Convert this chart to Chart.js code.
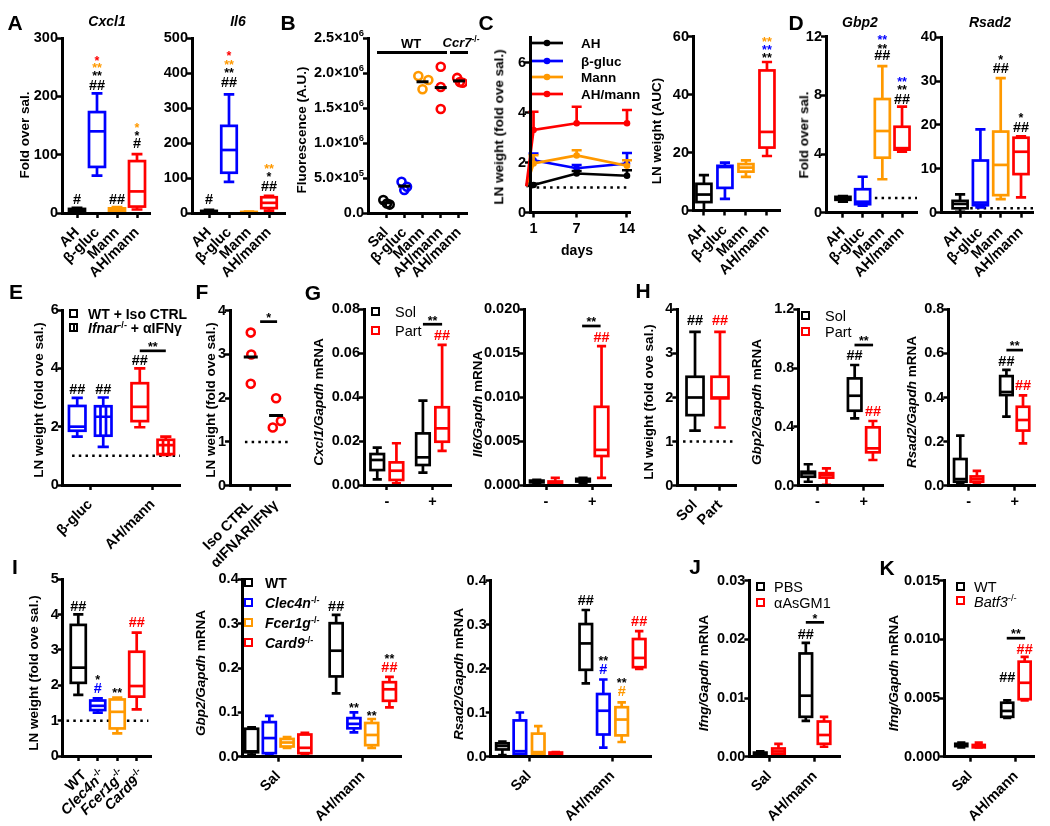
<!DOCTYPE html>
<html><head><meta charset="utf-8">
<script src="https://cdn.jsdelivr.net/npm/chart.js@4.4.1/dist/chart.umd.min.js"></script>
<style>
html,body{margin:0;padding:0;background:#fff;}
#fig{position:relative;width:1050px;height:826px;overflow:hidden;background:#fff;font-family:'Liberation Sans',Arial,sans-serif;font-weight:bold;color:#000;}
#fig canvas{position:absolute;}
.t{position:absolute;white-space:nowrap;line-height:1;}
.sup{font-size:0.65em;vertical-align:0.6em;font-style:normal;}
</style></head><body><div id="fig"></div>
<script>
const K='#000000', BL='#0000ff', OR='#ff9900', RD='#ff0000';
const FF="'Liberation Sans', Arial, Helvetica, sans-serif";

// ================= DATA =================
// A
const catsA = ['AH','β-gluc','Mann','AH/mann'];
const colorsA = [K, BL, OR, RD];
const cxcl1A = [[1,3,5,7,9],[64,79,140,173,205],[2,3,5,8,10],[6,11,37,89,101]];
const il6A = [[1,2,4,6,9],[89,115,180,249,339],[0.5,1,2,3,4],[7,14,29,45,49]];
const ticksCxcl1A = [0,100,200,300];
const ticksIl6A = [0,100,200,300,400,500];
// B
const catsB = ['Sal','β-gluc','Mann','AH/mann','AH/mann'];
const colorsB = [K, BL, OR, RD, RD];
const fluorB = [[1.85e5,1.35e5,1.2e5],[4.47e5,3.76e5,3.29e5],[1.957e6,1.9e6,1.767e6],[2.09e6,1.8e6,1.486e6],[1.93e6,1.87e6,1.86e6]];
const ticksB = [0,5e5,1e6,1.5e6,2e6,2.5e6];
const tickMantB = ['0.0','5.0×10','1.0×10','1.5×10','2.0×10','2.5×10'];
const tickExpB = ['','5','6','6','6','6'];
// C
const daysC = [0,1,7,14];
const seriesC = ['AH','β-gluc','Mann','AH/mann'];
const colorsC = [K, BL, OR, RD];
const lnAH_C = [1.05,1.1,1.56,1.47],  semAH_C = [0,0.05,0.1,0.22];
const lnBG_C = [1.05,2.09,1.77,1.96], semBG_C = [0,0.27,0.13,0.42];
const lnMa_C = [1.05,1.96,2.28,1.87], semMa_C = [0,0.33,0.21,0.22];
const lnAM_C = [1.05,3.3,3.57,3.57],  semAM_C = [0,0.73,0.66,0.53];
const ticksC = [0,2,4,6];
const daysTicksC = [1,7,14];
const aucC = [[0,2.9,5.5,9.2,12.2],[4,7.8,15,15.4,16.5],[11.6,13.4,14.8,16,17.3],[18.8,21.7,27.1,48.3,51.2]];
const ticksAucC = [0,20,40,60];
// D
const gbp2D = [[0.75,0.88,1.0,1.08,1.14],[0.48,0.58,0.75,1.6,2.45],[2.28,3.75,5.57,7.75,10.0],[4.16,4.3,4.4,5.86,7.23]];
const rsad2D = [[0.2,1.0,2.0,2.7,4.2],[1.2,1.7,2.3,11.9,19.0],[3.1,4.0,10.9,18.5,30.7],[3.5,8.8,13.9,17.1,17.4]];
const ticksGbp2D = [0,4,8,12];
const ticksRsad2D = [0,10,20,30,40];
// E
const catsE = ['β-gluc','AH/mann'];
const colorsE = [BL, RD];
const lnE_WT = [[1.66,1.86,2.0,2.71,2.99],[1.98,2.19,2.68,3.49,4.0]];
const lnE_KO = [[1.31,1.69,2.34,2.7,3.0],[1.03,1.06,1.37,1.55,1.66]];
const ticksE = [0,2,4,6];
// F
const catsF = ['Iso CTRL','αIFNAR/IFNγ'];
const lnF = [[3.5,3.0,2.33],[2.0,1.33,1.48]];
const ticksF = [0,1,2,3,4];
// G
const catsG = ['-','+'];
const cxcl1G_Sol = [[0.0026,0.0068,0.0114,0.0141,0.017],[0.0056,0.0091,0.0126,0.0235,0.0384]];
const cxcl1G_Part = [[0.0008,0.0023,0.0065,0.0103,0.019],[0.0155,0.0197,0.0258,0.0354,0.0638]];
const il6G_Sol = [[0.0002,0.0003,0.0004,0.0005,0.0006],[0.0002,0.0004,0.0005,0.0007,0.0008]];
const il6G_Part = [[0.0,0.0001,0.0002,0.0004,0.0008],[0.0008,0.0033,0.004,0.0089,0.0158]];
const ticksCxcl1G = [0,0.02,0.04,0.06,0.08];
const ticksIl6G = [0,0.005,0.01,0.015,0.02];
// H
const catsH1 = ['Sol','Part'];
const lnH = [[1.25,1.6,2.0,2.47,3.49],[1.32,1.98,2.0,2.47,3.49]];
const gbp2H_Sol = [[0.027,0.061,0.084,0.095,0.146],[0.458,0.51,0.612,0.73,0.821]];
const gbp2H_Part = [[0.005,0.055,0.073,0.085,0.118],[0.175,0.227,0.254,0.397,0.44]];
const rsad2H_Sol = [[0.006,0.018,0.03,0.121,0.227],[0.313,0.411,0.425,0.497,0.525]];
const rsad2H_Part = [[0.007,0.018,0.03,0.042,0.067],[0.192,0.25,0.298,0.358,0.41]];
const ticksLnH = [0,1,2,3,4];
const ticksGbp2H = [0,0.4,0.8,1.2];
const ticksRsad2H = [0,0.2,0.4,0.6,0.8];
// I
const genoI = ['WT','Clec4n-/-','Fcer1g-/-','Card9-/-'];
const colorsI = [K, BL, OR, RD];
const lnI = [[1.73,2.07,2.5,3.71,4.01],[1.23,1.3,1.42,1.57,1.63],[0.64,0.78,1.25,1.6,1.65],[1.32,1.68,1.98,2.95,3.49]];
const catsI2 = ['Sal','AH/mann'];
const gbp2I_Sal = [[0.005,0.01,0.012,0.063,0.066],[0.005,0.008,0.042,0.078,0.092],[0.02,0.023,0.032,0.04,0.044],[0.006,0.008,0.02,0.05,0.054]];
const gbp2I_AHM = [[0.143,0.181,0.239,0.301,0.32],[0.055,0.064,0.074,0.087,0.1],[0.02,0.026,0.049,0.076,0.085],[0.111,0.126,0.152,0.168,0.18]];
const rsad2I_Sal = [[0.003,0.016,0.024,0.03,0.034],[0.003,0.006,0.012,0.082,0.1],[0.002,0.005,0.01,0.052,0.069],[0.005,0.006,0.007,0.009,0.01]];
const rsad2I_AHM = [[0.166,0.197,0.257,0.301,0.333],[0.02,0.05,0.104,0.142,0.175],[0.033,0.048,0.084,0.112,0.123],[0.199,0.203,0.224,0.267,0.285]];
const ticksLnI = [0,1,2,3,4,5];
const ticksI2 = [0,0.1,0.2,0.3,0.4];
// J, K
const catsJK = ['Sal','AH/mann'];
const ifngJ_PBS = [[0.0002,0.0003,0.0005,0.0007,0.0009],[0.0061,0.0068,0.0104,0.0176,0.0194]];
const ifngJ_As = [[0.0002,0.0005,0.0009,0.0014,0.0022],[0.0017,0.0022,0.0037,0.006,0.0068]];
const ifngK_WT = [[0.0008,0.0009,0.001,0.0011,0.0012],[0.0033,0.0034,0.0039,0.0046,0.0048]];
const ifngK_Batf = [[0.0008,0.0008,0.0009,0.001,0.0012],[0.0048,0.0049,0.0063,0.0081,0.0085]];
const ticksJ = [0,0.01,0.02,0.03];
const ticksK = [0,0.005,0.01,0.015];

// ============ layout-only arrays (jitter / annotation placement) ============
const jitterB = [[-0.15,0.05,0.2],[-0.15,0.15,0],[-0.23,0.32,0],[0,0,0],[-0.1,0.05,0.2]];
const jitterF = [[0,0.02,0],[0,-0.13,0.19]];
const annA1 = [[0,24,'#',K],[1,219,'##',K],[1,240,'**',K],[1,255,'**',OR],[1,267,'*',RD],[2,24,'##',K],[3,120,'#',K],[3,137,'*',K],[3,151,'*',OR]];
const annA2 = [[0,40,'#',K],[1,374,'##',K],[1,409,'**',K],[1,431,'**',OR],[1,457,'*',RD],[3,77,'##',K],[3,111,'*',K],[3,134,'**',OR]];
const annC2 = [[3,53.8,'**',K],[3,56.5,'**',BL],[3,59.3,'**',OR]];
const annD1 = [[2,10.75,'##',K],[2,11.37,'**',K],[2,11.98,'**',BL],[3,7.75,'##',K],[3,8.57,'**',K],[3,9.12,'**',BL]];
const annD2 = [[2,33,'##',K],[2,35.5,'*',K],[3,19.5,'##',K],[3,22.3,'*',K]];
const annE = [[-0.208,3.29,'##',K],[0.208,3.29,'##',K],[0.792,4.29,'##',K]];
const annG1 = [[1.21,0.0683,'##',RD]];
const annG2 = [[1.2,0.0169,'##',RD]];
const annH1 = [[0,3.76,'##',K],[1,3.76,'##',RD]];
const annH2 = [[0.8,0.889,'##',K],[1.2,0.51,'##',RD]];
const annH3 = [[0.82,0.567,'##',K],[1.18,0.457,'##',RD]];
const annI1 = [[0,4.25,'##',K],[1,2.24,'*',K],[1,1.94,'#',BL],[2,1.87,'**',K],[3,3.8,'##',RD]];
const annI2 = [[0.685,0.341,'##',K],[0.895,0.117,'**',K],[1.105,0.1,'**',K],[1.315,0.228,'**',K],[1.315,0.203,'##',RD]];
const annI3 = [[0.68,0.356,'##',K],[0.89,0.224,'**',K],[0.89,0.2,'#',BL],[1.11,0.174,'**',K],[1.11,0.15,'#',OR],[1.32,0.309,'##',RD]];
const annJ = [[0.8,0.0209,'##',K]];
const annK = [[1.19,0.0092,'##',RD],[0.81,0.0068,'##',K]];
const sigE = [[0.792,1.208,4.6,'**']];
const sigF = [[0.37,1.04,3.75,'*']];
const sigG1 = [[0.79,1.21,0.0732,'**']];
const sigG2 = [[0.78,1.18,0.0181,'**']];
const sigH2 = [[0.8,1.2,0.957,'**']];
const sigH3 = [[0.82,1.18,0.615,'**']];
const sigJ = [[0.8,1.2,0.0229,'*']];
const sigK = [[0.8,1.2,0.0101,'**']];

// ================= helpers =================
Chart.defaults.font.family = FF;
Chart.defaults.font.size = 14.5;
Chart.defaults.font.weight = 'bold';
Chart.defaults.color = '#000';
Chart.defaults.animation = false;

const LW = 2.7;
const fig = document.getElementById('fig');
const mean = a => a.reduce((p,c)=>p+c,0)/a.length;
const fmt = (t,d) => t.map(v=>v.toFixed(d));

function labelSegs(name){
  const m = name.match(/^(.*?)(-\/-)$/);
  return m ? [[m[1],'i'],[m[2],'s']] : [[name,'']];
}
function drawRich(ctx, segs, x, y, size, align){
  let total=0;
  const parts = segs.map(([t,f])=>{
    const fs = f==='s' ? size*0.65 : size;
    const font = (f==='i'?'italic ':'')+'bold '+fs+'px '+FF;
    ctx.font = font;
    const w = ctx.measureText(t).width; total += w;
    return {t,font,w,dy: f==='s' ? -size*0.35 : 0};
  });
  let cx = align==='right' ? x-total : (align==='center' ? x-total/2 : x);
  for (const p of parts){ ctx.font=p.font; ctx.fillText(p.t, cx, y+p.dy); cx += p.w; }
}
function line(ctx,a,b,c,d){ ctx.moveTo(a,b); ctx.lineTo(c,d); }

function drawBoxes(ctx, xs, ys, boxes, w){
  const cw = w*0.68;
  for (const b of boxes){
    const px = xs.getPixelForValue(b.x);
    const [mn,q1,md,q3,mx] = b.s.map(v=>ys.getPixelForValue(v));
    ctx.save();
    ctx.strokeStyle=b.c; ctx.lineWidth=LW; ctx.lineCap='butt';
    ctx.beginPath();
    line(ctx,px,mx,px,q3); line(ctx,px,q1,px,mn);
    line(ctx,px-cw/2,mx,px+cw/2,mx); line(ctx,px-cw/2,mn,px+cw/2,mn);
    ctx.stroke();
    ctx.fillStyle='#fff';
    ctx.fillRect(px-w/2,q3,w,q1-q3);
    ctx.strokeRect(px-w/2,q3,w,q1-q3);
    ctx.beginPath();
    line(ctx,px-w/2,md,px+w/2,md);
    if (b.hatch){ for (const f of [-1/6,1/6]) line(ctx,px+f*w,q3,px+f*w,q1); }
    ctx.stroke();
    ctx.restore();
  }
}

function extras(s){
  return {
    id:'extras',
    beforeDatasetsDraw(chart){
      const ctx=chart.ctx, xs=chart.scales.x, ys=chart.scales.y;
      if (s.dotted){
        ctx.save(); ctx.strokeStyle='#000'; ctx.lineWidth=2.5; ctx.setLineDash([2.5,4.2]);
        ctx.beginPath(); const yy=ys.getPixelForValue(1);
        line(ctx, xs.getPixelForValue(s.dotted[0]), yy, xs.getPixelForValue(s.dotted[1]), yy);
        ctx.stroke(); ctx.restore();
      }
    },
    afterDatasetsDraw(chart){
      const ctx=chart.ctx, xs=chart.scales.x, ys=chart.scales.y;
      if (s.err){
        ctx.save(); ctx.lineWidth=LW;
        s.err.forEach(e=>{
          ctx.strokeStyle=e.c; ctx.beginPath();
          e.x.forEach((xv,i)=>{
            if (!e.sem[i]) return;
            const px=xs.getPixelForValue(xv), py=ys.getPixelForValue(e.m[i]), pt=ys.getPixelForValue(e.m[i]+e.sem[i]);
            line(ctx,px,py,px,pt); line(ctx,px-5,pt,px+5,pt);
          });
          ctx.stroke();
        });
        ctx.restore();
      }
      if (s.boxes) drawBoxes(ctx, xs, ys, s.boxes, s.boxW);
      if (s.sig){
        ctx.save();
        for (const [xa,xb,y,t] of s.sig){
          const py=ys.getPixelForValue(y), pa=xs.getPixelForValue(xa), pb=xs.getPixelForValue(xb);
          ctx.strokeStyle='#000'; ctx.lineWidth=LW; ctx.beginPath(); line(ctx,pa,py,pb,py); ctx.stroke();
          ctx.fillStyle='#000'; ctx.font='bold 12.5px '+FF; ctx.textAlign='center'; ctx.textBaseline='alphabetic';
          ctx.fillText(t,(pa+pb)/2,py+0.3);
        }
        ctx.restore();
      }
      if (s.ann){
        ctx.save(); ctx.textAlign='center'; ctx.textBaseline='alphabetic';
        for (const [x,y,t,c] of s.ann){
          const star = t.includes('*'); const fs = star ? 12.5 : 14.5;
          ctx.font='bold '+fs+'px '+FF; ctx.fillStyle=c;
          ctx.fillText(t, xs.getPixelForValue(x), ys.getPixelForValue(y)+(star?0.58:0.36)*fs);
        }
        ctx.restore();
      }
      if (s.richX){
        ctx.save(); ctx.fillStyle='#000'; ctx.textBaseline='middle';
        s.xTicks.forEach((v,i)=>{
          const px=xs.getPixelForValue(v);
          ctx.save(); ctx.translate(px, xs.top+11); ctx.rotate(-Math.PI/4);
          drawRich(ctx, labelSegs(s.xLabels[i]), 0, 8.4, 14.5, 'right');
          ctx.restore();
        });
        ctx.restore();
      }
      if (s.richY){
        ctx.save(); ctx.fillStyle='#000'; ctx.textBaseline='middle';
        s.yTicks.forEach((v,i)=>{
          const py=ys.getPixelForValue(v);
          const segs=[[s.richY.mant[i],'']]; if (s.richY.exp[i]) segs.push([s.richY.exp[i],'s']);
          drawRich(ctx, segs, ys.right-4, py, 14.5, 'right');
        });
        ctx.restore();
      }
      if (s.legendC){
        const g=s.legendC; ctx.save();
        g.items.forEach(([t,c],i)=>{
          const y=g.ys[i]-s._top;
          ctx.strokeStyle=c; ctx.fillStyle=c; ctx.lineWidth=LW;
          ctx.beginPath(); line(ctx,g.x1-s._left,y,g.x2-s._left,y); ctx.stroke();
          ctx.beginPath(); ctx.arc(g.dot-s._left,y,3.3,0,Math.PI*2); ctx.fill();
          ctx.fillStyle='#000'; ctx.font='bold 13.5px '+FF; ctx.textAlign='left'; ctx.textBaseline='middle';
          ctx.fillText(t,g.tx-s._left,y+1);
        });
        ctx.restore();
      }
    }
  };
}

function makePanel(s){
  const [x0,y0,x1,y1]=s.rect;
  const rot = s.rot!==false;
  const left=Math.floor(x0)-72, top=Math.floor(y0)-34;
  const W=Math.ceil(x1)+28-left, H=Math.ceil(y1)+(rot?88:38)-top;
  const L=x0-left, T=y0-top, R=W-(x1-left), Bh=H-(y1-top);
  s._left=left; s._top=top;
  const cv=document.createElement('canvas');
  cv.width=W; cv.height=H;
  cv.style.left=left+'px'; cv.style.top=top+'px'; cv.style.width=W+'px'; cv.style.height=H+'px';
  fig.appendChild(cv);
  const grid={display:true,drawOnChartArea:false,drawTicks:true,tickLength:5,tickWidth:2.5,tickColor:'#000'};
  const border={display:true,width:3,color:'#000',z:1};
  new Chart(cv,{
    type:'scatter',
    data:{datasets:s.datasets||[]},
    options:{
      responsive:false, maintainAspectRatio:false, devicePixelRatio:1, animation:false,
      layout:{padding:{top:T,right:R,left:0,bottom:0}},
      plugins:{legend:{display:false},tooltip:{enabled:false}},
      scales:{
        x:{type:'linear',min:s.xr[0],max:s.xr[1],grid,border,
          afterBuildTicks:sc=>{sc.ticks=s.xTicks.map(v=>({value:v}));},
          afterFit:sc=>{sc.height=Bh;},
          ticks:{autoSkip:false,maxRotation:rot?45:0,minRotation:rot?45:0,padding:rot?6:3,color:'#000',
            callback:(v,i)=>s.richX?'':s.xLabels[i]}},
        y:{type:'linear',min:s.yr[0],max:s.yr[1],grid,border,
          afterBuildTicks:sc=>{sc.ticks=s.yTicks.map(v=>({value:v}));},
          afterFit:sc=>{sc.width=L;},
          ticks:{padding:-1,color:'#000',callback:(v,i)=>s.richY?'':s.yLabels[i]}}
      }
    },
    plugins:[extras(s)]
  });
}

const simpleBoxes = (stats, colors) => stats.map((s,i)=>({x:i,s,c:colors[i]}));
function pairBoxes(a, b, off, ca, cb, hatchB){
  const out=[];
  a.forEach((s,g)=>out.push({x:g-off,s,c:Array.isArray(ca)?ca[g]:ca}));
  b.forEach((s,g)=>out.push({x:g+off,s,c:Array.isArray(cb)?cb[g]:cb,hatch:!!hatchB}));
  return out;
}
function quadBoxes(sal, ahm, offs, colors){
  const out=[];
  [sal,ahm].forEach((grp,g)=>grp.forEach((s,k)=>out.push({x:g+offs[k],s,c:colors[k]})));
  return out;
}
function dotDatasets(vals, jit, colors, r){
  return [
    {data:vals.map((v,i)=>({x:i,y:mean(v)})),pointStyle:'line',pointRadius:r,pointHoverRadius:r,pointBorderWidth:3,pointBorderColor:K,pointBackgroundColor:K},
    ...vals.map((v,i)=>({data:v.map((y,j)=>({x:i+jit[i][j],y})),pointRadius:4,pointHoverRadius:4,pointBorderWidth:2.6,pointBorderColor:colors[i],pointBackgroundColor:'rgba(0,0,0,0)'}))
  ];
}
const lnC=[lnAH_C,lnBG_C,lnMa_C,lnAM_C], semC=[semAH_C,semBG_C,semMa_C,semAM_C];
const dsC=[3,2,1,0].map(k=>({data:daysC.map((d,i)=>({x:d,y:lnC[k][i]})),showLine:true,borderColor:colorsC[k],borderWidth:LW,
  pointRadius:3.3,pointHoverRadius:3.3,pointBackgroundColor:colorsC[k],pointBorderColor:colorsC[k],pointBorderWidth:0,clip:false,tension:0}));
const errC=[0,1,2,3].map(k=>({x:daysC,m:lnC[k],sem:semC[k],c:colorsC[k]}));

const panels=[
 {rect:[62,38,150,213],xr:[-0.75,3.65],yr:[0,300],yTicks:ticksCxcl1A,yLabels:fmt(ticksCxcl1A,0),xTicks:[0,1,2,3],xLabels:catsA,boxW:16,boxes:simpleBoxes(cxcl1A,colorsA),ann:annA1},
 {rect:[192,38,285,213],xr:[-0.85,3.8],yr:[0,500],yTicks:ticksIl6A,yLabels:fmt(ticksIl6A,0),xTicks:[0,1,2,3],xLabels:catsA,boxW:15.5,boxes:simpleBoxes(il6A,colorsA),ann:annA2},
 {rect:[368,38,467,213],xr:[-0.99,4.44],yr:[0,2.5e6],yTicks:ticksB,richY:{mant:tickMantB,exp:tickExpB},xTicks:[0,1,2,3,4],xLabels:catsB,datasets:dotDatasets(fluorB,jitterB,colorsB,6)},
 {rect:[530,37.5,630,212.5],xr:[0.51,14.42],yr:[0,7],yTicks:ticksC,yLabels:fmt(ticksC,0),xTicks:daysTicksC,xLabels:daysTicksC.map(String),rot:false,datasets:dsC,err:errC,dotted:[0.51,14],
   legendC:{items:seriesC.map((t,i)=>[t,colorsC[i]]),ys:[43,61,77,94],x1:531,x2:563,dot:547,tx:581}},
 {rect:[693,36.5,780,210.5],xr:[-0.52,3.62],yr:[0,60],yTicks:ticksAucC,yLabels:fmt(ticksAucC,0),xTicks:[0,1,2,3],xLabels:catsA,boxW:15,boxes:simpleBoxes(aucC,colorsA),ann:annC2},
 {rect:[826,36.7,917,212.7],xr:[-0.86,3.76],yr:[0,12],yTicks:ticksGbp2D,yLabels:fmt(ticksGbp2D,0),xTicks:[0,1,2,3],xLabels:catsA,boxW:15,boxes:simpleBoxes(gbp2D,colorsA),ann:annD1,dotted:[0.6,3.76]},
 {rect:[941,37.3,1033,212.7],xr:[-0.94,3.59],yr:[0,40],yTicks:ticksRsad2D,yLabels:fmt(ticksRsad2D,0),xTicks:[0,1,2,3],xLabels:catsA,boxW:15,boxes:simpleBoxes(rsad2D,colorsA),ann:annD2,dotted:[0.5,3.59]},
 {rect:[62.7,310,180,485],xr:[-0.44,1.435],yr:[0,6],yTicks:ticksE,yLabels:fmt(ticksE,0),xTicks:[0,1],xLabels:catsE,boxW:16.5,boxes:pairBoxes(lnE_WT,lnE_KO,0.208,colorsE,colorsE,true),ann:annE,sig:sigE,dotted:[-0.29,1.435]},
 {rect:[230,310.7,290,485.7],xr:[-0.82,1.55],yr:[0,4],yTicks:ticksF,yLabels:fmt(ticksF,0),xTicks:[0,1],xLabels:catsF,datasets:dotDatasets(lnF,jitterF,[RD,RD],7),sig:sigF,dotted:[-0.23,1.55]},
 {rect:[364,309.3,451.7,485],xr:[-0.5,1.42],yr:[0,0.08],yTicks:ticksCxcl1G,yLabels:fmt(ticksCxcl1G,2),xTicks:[0,1],xLabels:catsG,rot:false,boxW:13.5,boxes:pairBoxes(cxcl1G_Sol,cxcl1G_Part,0.21,K,RD),ann:annG1,sig:sigG1},
 {rect:[524.3,309.3,611.7,485],xr:[-0.47,1.42],yr:[0,0.02],yTicks:ticksIl6G,yLabels:fmt(ticksIl6G,3),xTicks:[0,1],xLabels:catsG,rot:false,boxW:13.5,boxes:pairBoxes(il6G_Sol,il6G_Part,0.2,K,RD),ann:annG2,sig:sigG2},
 {rect:[677.3,309.3,736.7,485.7],xr:[-0.71,1.67],yr:[0,4],yTicks:ticksLnH,yLabels:fmt(ticksLnH,0),xTicks:[0,1],xLabels:catsH1,boxW:17,boxes:simpleBoxes(lnH,[K,RD]),ann:annH1,dotted:[-0.48,1.52]},
 {rect:[798.3,309.3,883.3,485.7],xr:[-0.41,1.42],yr:[0,1.2],yTicks:ticksGbp2H,yLabels:fmt(ticksGbp2H,1),xTicks:[0,1],xLabels:catsG,rot:false,boxW:13.5,boxes:pairBoxes(gbp2H_Sol,gbp2H_Part,0.196,K,RD),ann:annH2,sig:sigH2},
 {rect:[948.3,309.3,1035,485.7],xr:[-0.44,1.44],yr:[0,0.8],yTicks:ticksRsad2H,yLabels:fmt(ticksRsad2H,1),xTicks:[0,1],xLabels:catsG,rot:false,boxW:12.5,boxes:pairBoxes(rsad2H_Sol,rsad2H_Part,0.18,K,RD),ann:annH3,sig:sigH3},
 {rect:[62.7,579.3,151.7,756],xr:[-0.8,3.77],yr:[0,5],yTicks:ticksLnI,yLabels:fmt(ticksLnI,0),xTicks:[0,1,2,3],xLabels:genoI,richX:true,boxW:15,boxes:simpleBoxes(lnI,colorsI),ann:annI1,dotted:[-0.6,3.6]},
 {rect:[242.7,579.3,401.7,756.7],xr:[-0.42,1.46],yr:[0,0.4],yTicks:ticksI2,yLabels:fmt(ticksI2,1),xTicks:[0,1],xLabels:catsI2,boxW:13,boxes:quadBoxes(gbp2I_Sal,gbp2I_AHM,[-0.315,-0.105,0.105,0.315],colorsI),ann:annI2},
 {rect:[490.7,580.5,651.7,756.5],xr:[-0.46,1.47],yr:[0,0.4],yTicks:ticksI2,yLabels:fmt(ticksI2,1),xTicks:[0,1],xLabels:catsI2,boxW:12.5,boxes:quadBoxes(rsad2I_Sal,rsad2I_AHM,[-0.32,-0.11,0.11,0.32],colorsI),ann:annI3},
 {rect:[749.3,580.7,840,756.7],xr:[-0.44,1.55],yr:[0,0.03],yTicks:ticksJ,yLabels:fmt(ticksJ,2),xTicks:[0,1],xLabels:catsJK,boxW:12.5,boxes:pairBoxes(ifngJ_PBS,ifngJ_As,0.2,K,RD),ann:annJ,sig:sigJ},
 {rect:[944.3,580.7,1034.3,756.7],xr:[-0.56,1.4],yr:[0,0.015],yTicks:ticksK,yLabels:fmt(ticksK,3),xTicks:[0,1],xLabels:catsJK,boxW:12,boxes:pairBoxes(ifngK_WT,ifngK_Batf,0.19,K,RD),ann:annK,sig:sigK},
];
panels.forEach(makePanel);

// ================= HTML text =================
function text(html,x,y,o={}){
  const d=document.createElement('div'); d.className='t'; d.innerHTML=html;
  d.style.left=x+'px'; d.style.top=y+'px'; d.style.fontSize=(o.size||14)+'px';
  d.style.fontWeight=o.weight||'bold'; d.style.color=o.color||'#000';
  let tr=o.left?'translate(0,-50%)':'translate(-50%,-50%)';
  if(o.rot) tr+=' rotate('+o.rot+'deg)';
  d.style.transform=tr; fig.appendChild(d);
}
function sq(cx,cy,color,hatch){
  const d=document.createElement('div');
  d.style.cssText=`position:absolute;left:${cx-5}px;top:${cy-5}px;width:5px;height:5px;border:2.5px solid ${color};background:#fff;`;
  if(hatch){const h=document.createElement('div');h.style.cssText=`position:absolute;left:1.5px;top:0;width:2px;height:5px;background:${color}`;d.appendChild(h);}
  fig.appendChild(d);
}
function hline(x1,x2,y){
  const d=document.createElement('div');
  d.style.cssText=`position:absolute;left:${x1}px;top:${y-1.5}px;width:${x2-x1}px;height:3px;background:#000;`;
  fig.appendChild(d);
}
const sup='<span class="sup">-/-</span>';
[['A',15,22],['B',288,22],['C',486,22],['D',796,22],['E',16,291],['F',202,291],['G',313,292],['H',643,290],['I',15,566],['J',695,566],['K',887,567]]
  .forEach(([t,x,y])=>text(t,x,y,{size:21}));
[['<i>Cxcl1</i>',107,21],['<i>Il6</i>',238,21],['<i>Gbp2</i>',860,22],['<i>Rsad2</i>',990,22]].forEach(([t,x,y])=>text(t,x,y,{size:14}));
const mr='<i>', me='</i> mRNA';
[['Fold over sal.',25,135],['Fluorescence (A.U.)',302,130],['LN weight (fold ove sal.)',499,127],['LN weight (AUC)',657,131],['Fold over sal.',804,135],
 ['LN weight (fold ove sal.)',39,400],['LN weight (fold ove sal.)',211,400],[mr+'Cxcl1/Gapdh'+me,319,402],[mr+'Il6/Gapdh'+me,478,404],
 ['LN weight (fold ove sal.)',649,402],[mr+'Gbp2/Gapdh'+me,757,402],[mr+'Rsad2/Gapdh'+me,912,402],
 ['LN weight (fold ove sal.)',34,673],[mr+'Gbp2/Gapdh'+me,201,673],[mr+'Rsad2/Gapdh'+me,459,674],[mr+'Ifng/Gapdh'+me,704,673],[mr+'Ifng/Gapdh'+me,894,673]]
 .forEach(([t,x,y])=>text(t,x,y,{size:13.5,rot:-90}));
text('days',577,250,{size:14});
hline(377,447,52); hline(450,468,52);
text('WT',411,43,{size:13}); text('<i>Ccr7</i>'+sup,461,42,{size:13});
sq(74,314,K); text('WT + Iso CTRL',88,314,{left:1,size:14});
sq(74,328,K,true); text('<i>Ifnar</i>'+sup+' + αIFNγ',88,328,{left:1,size:14});
sq(376,311.7,K); text('Sol',395,311.7,{left:1,size:14.5,weight:'normal'});
sq(376,330.7,RD); text('Part',395,330.7,{left:1,size:14.5,weight:'normal'});
sq(806,315.7,K); text('Sol',825,315.7,{left:1,size:14.5,weight:'normal'});
sq(806,331.7,RD); text('Part',825,331.7,{left:1,size:14.5,weight:'normal'});
genoI.forEach((g,i)=>{const y=583.3+i*19.8; sq(249.3,y,colorsI[i]);
  const m=g.match(/^(.*?)(-\/-)$/); text(m?'<i>'+m[1]+'</i>'+sup:g,265,y,{left:1,size:14});});
sq(760.7,586.7,K); text('PBS',774,586.7,{left:1,size:14.5,weight:'normal'});
sq(760.7,602.7,RD); text('αAsGM1',774,602.7,{left:1,size:14.5,weight:'normal'});
sq(960.7,586.7,K); text('WT',974,586.7,{left:1,size:14.5,weight:'normal'});
sq(960.7,600.7,RD); text('<i>Batf3</i>'+sup,974,600.7,{left:1,size:14.5,weight:'normal'});
</script></body></html>
